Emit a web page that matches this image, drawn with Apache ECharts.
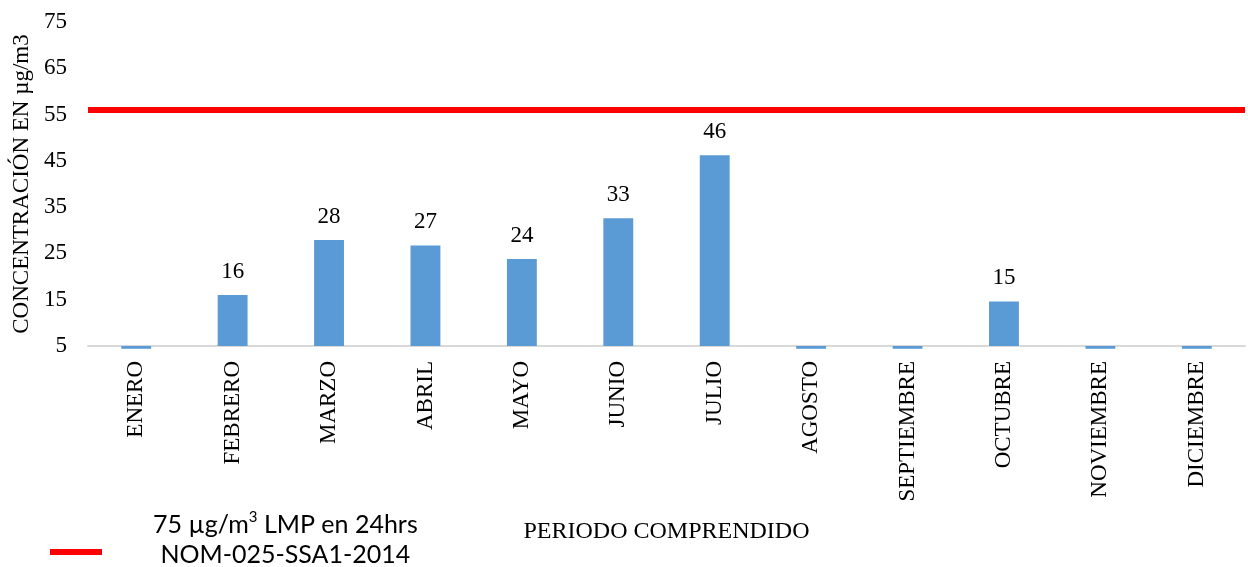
<!DOCTYPE html>
<html>
<head>
<meta charset="utf-8">
<script src="https://cdn.jsdelivr.net/npm/echarts@6/dist/echarts.min.js"></script>
<style>
  html, body { margin: 0; padding: 0; background: #fff; }
  #main { width: 1248px; height: 567px; }
</style>
</head>
<body>
<div id="main"></div>
<script>
// meses
const months = ['ENERO', 'FEBRERO', 'MARZO', 'ABRIL', 'MAYO', 'JUNIO', 'JULIO',
  'AGOSTO', 'SEPTIEMBRE', 'OCTUBRE', 'NOVIEMBRE', 'DICIEMBRE'];
// concentracion mensual (los meses sin dato quedan un poco bajo el eje)
const concentration = [4.4, 16, 27.9, 26.7, 23.8, 32.6, 46.2, 4.4, 4.4, 14.6, 4.4, 4.4];
// limite maximo permisible dibujado
const limitValue = 56;
const yTicks = [5, 15, 25, 35, 45, 55, 65, 75];
const limitName = 'NOM';

const serif = '"Liberation Serif", "Times New Roman", serif';

let myChart = echarts.init(document.getElementById('main'));
myChart.setOption({
  animation: false,
  grid: {
    left: 88,
    right: 3,
    top: 22,
    bottom: 221
  },
  legend: {
    left: 45,
    top: 505,
    data: [{ name: limitName, icon: 'rect', itemStyle: { color: '#ff0000' } }],
    itemWidth: 52,
    itemHeight: 6,
    formatter: function () {
      return '{a|75 µg/m}{s|3}{a| LMP en 24hrs}\n{a|NOM-025-SSA1-2014}';
    },
    textStyle: {
      // el icono va a la altura de la segunda linea
      padding: [0, 0, 24, 46],
      rich: {
        a: { fontFamily: 'Lato', fontSize: 25, color: '#000', lineHeight: 30, align: 'center' },
        s: { fontFamily: 'Lato', fontSize: 15, color: '#000', verticalAlign: 'top', lineHeight: 30, padding: [0, 0, 12, 0], align: 'center' }
      }
    }
  },
  xAxis: {
    type: 'category',
    data: months,
    name: 'PERIODO COMPRENDIDO',
    nameLocation: 'middle',
    nameGap: 174,
    nameTextStyle: { fontFamily: serif, fontSize: 24, color: '#000', verticalAlign: 'top' },
    axisLine: { lineStyle: { color: '#d9d9d9', width: 2 } },
    axisTick: { show: false },
    axisLabel: {
      rotate: 90,
      margin: 15,
      interval: 0,
      fontFamily: serif,
      fontSize: 23,
      color: '#000'
    }
  },
  yAxis: {
    type: 'value',
    min: 5,
    max: 75,
    interval: 10,
    startValue: 5,
    name: 'CONCENTRACIÓN EN µg/m3',
    nameLocation: 'middle',
    nameRotate: 90,
    nameGap: 54,
    nameTextStyle: { fontFamily: serif, fontSize: 23, color: '#000' },
    axisLine: { show: false },
    axisTick: { show: false },
    splitLine: { show: false },
    axisLabel: {
      margin: 21,
      fontFamily: serif,
      fontSize: 23,
      color: '#000',
      formatter: function (v) { return yTicks.indexOf(v) >= 0 ? String(v) : ''; }
    }
  },
  series: [{
    type: 'bar',
    data: concentration,
    barWidth: '31%',
    clip: false,
    itemStyle: { color: '#5b9bd5' },
    label: {
      show: true,
      position: 'top',
      distance: 12,
      fontFamily: serif,
      fontSize: 23,
      color: '#000',
      formatter: function (p) { return p.value > 5 ? Math.round(p.value) : ''; }
    }
  }, {
    // linea del limite
    name: limitName,
    type: 'line',
    data: [],
    markLine: {
      silent: true,
      symbol: ['none', 'none'],
      label: { show: false },
      lineStyle: { color: '#ff0000', width: 6, type: 'solid' },
      data: [{ yAxis: limitValue }]
    }
  }]
});
</script>
</body>
</html>
